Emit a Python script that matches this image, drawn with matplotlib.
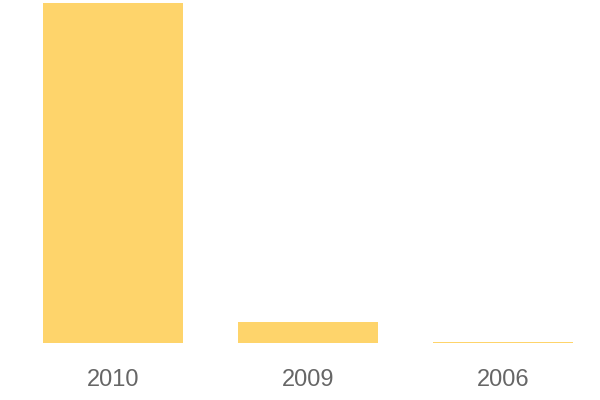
import matplotlib
matplotlib.use("Agg")
import matplotlib.pyplot as plt

years = ["2010", "2009", "2006"]
values = [100.0, 6.3, 0.15]

bar_color = "#FED46B"
width = 0.718

fig = plt.figure(figsize=(6, 4), dpi=100)
ax = fig.add_axes([43 / 600, 57 / 400, 530 / 600, 340 / 400])

x = range(len(years))
ax.bar(x, values, width=width, color=bar_color, linewidth=0)

ax.set_xlim(-width / 2, len(years) - 1 + width / 2)
ax.set_ylim(0, values[0])

for i, lab in enumerate(years):
    ax.text(i, -0.108 * values[0], lab, ha="center", va="center",
            fontsize=17, color="#666666", family="Liberation Sans")

ax.set_xticks([])
ax.set_yticks([])
for s in ax.spines.values():
    s.set_visible(False)

fig.savefig("out.png", dpi=100)
